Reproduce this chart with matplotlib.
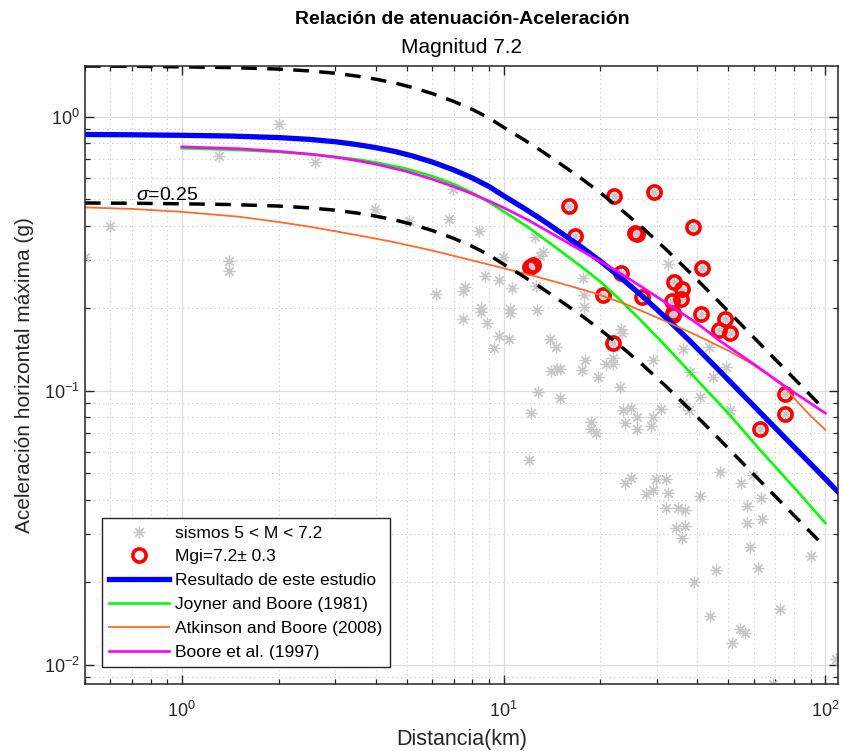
import numpy as np
import matplotlib
matplotlib.use('Agg')
import matplotlib.pyplot as plt

plt.rcParams['font.family'] = ['Liberation Sans', 'DejaVu Sans']
plt.rcParams['mathtext.fontset'] = 'custom'
plt.rcParams['mathtext.rm'] = 'Liberation Sans'
plt.rcParams['mathtext.it'] = 'Liberation Sans:italic'

# registros de sismos 5 < M < 7.2 (distancia km, aceleracion g)
sismos_dist = [2.00, 1.30, 2.59, 0.60, 0.50, 1.40, 1.40, 3.99, 5.09, 6.78, 8.36, 6.96,
               12.54, 9.93, 13.25, 12.94, 8.77, 9.68, 10.59, 7.56, 7.47, 6.18, 12.64,
               8.48, 8.48, 10.49, 10.49, 12.69, 7.47, 8.89, 9.68, 10.39, 9.36, 13.95,
               14.54, 14.00, 14.61, 15.01, 17.82, 17.82, 17.95, 17.57, 19.70, 20.86,
               21.87, 21.87, 23.22, 23.39, 29.12, 23.02, 12.79, 15.01, 12.20, 18.73,
               18.73, 19.42, 23.44, 24.95, 25.97, 23.86, 25.91, 29.12, 28.78, 30.92,
               11.99, 24.95, 23.78, 36.08, 43.39, 37.86, 44.76, 49.09, 40.81, 36.08,
               37.78, 50.6, 47.1, 29.83, 32.05, 27.77, 29.05, 32.41, 40.81, 54.8,
               59.57, 63.03, 32.05, 34.82, 36.53, 57.06, 63.72, 57.06, 34.43, 36.71,
               35.84, 58.3, 61.9, 90.0, 45.6, 38.96, 72.5, 43.9, 54.2, 56.1, 51.4,
               108.0, 68.7, 32.41, 17.64]
sismos_pga = [0.941, 0.721, 0.685, 0.400, 0.309, 0.297, 0.274, 0.461, 0.418, 0.424, 0.383, 0.544,
              0.364, 0.309, 0.320, 0.311, 0.263, 0.253, 0.238, 0.239, 0.232, 0.225, 0.241,
              0.200, 0.194, 0.199, 0.193, 0.197, 0.183, 0.177, 0.158, 0.155, 0.143, 0.155,
              0.145, 0.118, 0.120, 0.120, 0.223, 0.202, 0.130, 0.119, 0.112, 0.125,
              0.125, 0.132, 0.168, 0.162, 0.130, 0.103, 0.0988, 0.0942, 0.0828, 0.0767,
              0.0726, 0.0700, 0.0847, 0.0868, 0.0805, 0.0762, 0.0724, 0.0801, 0.0741, 0.0859,
              0.0560, 0.0482, 0.0460, 0.142, 0.145, 0.117, 0.112, 0.122, 0.0947, 0.0903,
              0.0852, 0.0847, 0.0507, 0.0475, 0.0477, 0.0421, 0.0435, 0.0422, 0.0413, 0.0461,
              0.0491, 0.0407, 0.0374, 0.0374, 0.0368, 0.0381, 0.0339, 0.0330, 0.0316, 0.0320,
              0.0290, 0.0270, 0.0225, 0.0249, 0.0221, 0.0200, 0.0160, 0.0150, 0.0135, 0.0130, 0.0120,
              0.0105, 0.0085, 0.290, 0.259]

# registros con Mgi = 7.2 +- 0.3
mgi_dist = [15.96, 21.98, 29.27, 16.66, 25.91, 25.7, 38.77, 12.04, 12.33, 41.26, 23.1,
            33.77, 35.84, 20.31, 26.85, 35.68, 33.36, 33.53, 33.6, 41.17, 48.89, 46.83,
            50.5, 21.93, 74.7, 75.1, 62.6]
mgi_pga = [0.471, 0.516, 0.531, 0.366, 0.374, 0.378, 0.395, 0.282, 0.288, 0.281, 0.268,
           0.250, 0.236, 0.223, 0.219, 0.216, 0.213, 0.193, 0.189, 0.190, 0.183, 0.166,
           0.162, 0.149, 0.0969, 0.0819, 0.0722]

# curva propuesta en este estudio
est_dist = [0.5, 0.7, 1.0, 1.4, 2.0, 2.5, 3.0, 3.5, 4.0, 4.6, 5.2, 6.0, 7.0, 8.0, 9.0,
            10, 11.5, 13, 15, 17.5, 20, 23, 27, 32, 38, 45, 55, 66, 80, 92, 100, 110]
est_pga = [0.862, 0.860, 0.856, 0.851, 0.840, 0.827, 0.811, 0.792, 0.772, 0.747, 0.720,
           0.684, 0.640, 0.598, 0.557, 0.515, 0.466, 0.425, 0.379, 0.334, 0.297, 0.260,
           0.2215, 0.1844, 0.1516, 0.1242, 0.0976, 0.0784, 0.0623, 0.0527, 0.0477, 0.0425]
sigma = 0.25

# modelos publicados
jb81_dist = [1.0, 1.5, 2.0, 2.5, 3.0, 3.5, 4.0, 5.0, 6.0, 7.0, 8.0, 9.0, 10, 12, 14.7,
             17.5, 20, 23, 26.8, 32, 41.6, 50, 62.5, 80, 100]
jb81_pga = [0.768, 0.757, 0.744, 0.730, 0.715, 0.699, 0.682, 0.646, 0.607, 0.568, 0.528,
            0.488, 0.452, 0.393, 0.330, 0.283, 0.250, 0.215, 0.180, 0.145, 0.104, 0.0826,
            0.061, 0.0443, 0.0329]

ab08_dist = [0.5, 0.7, 1.0, 1.5, 2.0, 2.5, 3.0, 3.5, 4.5, 6.0, 8.0, 10, 12.5, 15, 19, 24,
             31, 40, 50, 58, 66, 74, 82, 90, 100]
ab08_pga = [0.467, 0.461, 0.450, 0.432, 0.413, 0.397, 0.382, 0.370, 0.350, 0.325, 0.299,
            0.280, 0.262, 0.247, 0.228, 0.207, 0.182, 0.159, 0.140, 0.127, 0.115, 0.104,
            0.091, 0.081, 0.072]

b97_dist = [1.0, 1.5, 2.0, 2.5, 3.0, 3.5, 4.0, 5.0, 6.0, 7.0, 8.0, 9.0, 10, 12, 14.7, 18,
            22.9, 28, 33.6, 40, 46.9, 60, 75.6, 100]
b97_pga = [0.777, 0.765, 0.748, 0.731, 0.712, 0.692, 0.672, 0.632, 0.592, 0.556, 0.523,
           0.493, 0.466, 0.418, 0.365, 0.318, 0.270, 0.232, 0.2016, 0.176, 0.1524, 0.125,
           0.103, 0.0828]

fig = plt.figure(figsize=(8.43, 7.51), dpi=100)
ax = fig.add_axes([85 / 843, 67 / 751, 753 / 843, 618 / 751])

sis_x = sismos_dist + mgi_dist
sis_y = sismos_pga + mgi_pga
ax.plot(sis_x, sis_y, ls='none', marker=(8, 2, 0), ms=8.5, mew=0.9,
        color='#c8c8c8', label='sismos 5 < M < 7.2')
ax.plot(mgi_dist, mgi_pga, ls='none', marker='o', ms=9.5, mew=2.6,
        mec='#ff0000', mfc='none', label='Mgi=7.2± 0.3')
ax.plot(est_dist, est_pga, color='#0000ff', lw=3.8, label='Resultado de este estudio')
ax.plot(jb81_dist, jb81_pga, color='#00ff00', lw=1.9, label='Joyner and Boore (1981)')
ax.plot(ab08_dist, ab08_pga, color='#ff6a26', lw=1.3, label='Atkinson and Boore (2008)')
ax.plot(b97_dist, b97_pga, color='#ff00ff', lw=1.9, label='Boore et al. (1997)')

# banda de +- sigma (log10) alrededor de la curva propuesta
d = np.array(est_dist)
p = np.array(est_pga)
m = d <= 100
ax.plot(d[m], p[m] * 10 ** sigma, color='k', lw=2.5, ls=(0, (4.5, 3)))
ax.plot(d[m], p[m] / 10 ** sigma, color='k', lw=2.5, ls=(0, (4.5, 3)))
ax.text(0.72, 0.515, r'$\sigma$=0.25', fontsize=14, va='center', ha='left')

ax.set_xscale('log')
ax.set_yscale('log')
ax.set_xlim(0.5, 109.5)
ax.set_ylim(0.0085, 1.533)

ax.grid(True, which='major', color='#dcdcdc', lw=0.9, ls='-')
ax.grid(True, which='minor', color='#c4c4c4', lw=0.8, ls=(0, (1, 3)))
ax.set_axisbelow(True)
ax.tick_params(which='both', direction='in', top=True, right=True, colors='#262626',
               labelsize=13, labelcolor='#262626')
ax.tick_params(which='major', length=6.5, width=1.0)
ax.tick_params(which='minor', length=3.5, width=0.9)
ax.tick_params(axis='x', pad=12)
for s in ax.spines.values():
    s.set_color('#262626')
    s.set_linewidth(1.1)

ax.set_xlabel('Distancia(km)', fontsize=15.5, color='#262626', labelpad=6)
ax.set_ylabel('Aceleración horizontal máxima (g)', fontsize=15, color='#262626', labelpad=7)
fig.text(0.548, 0.974, 'Relación de atenuación-Aceleración', fontsize=14,
         fontweight='bold', ha='center', va='center')
fig.text(0.548, 0.937, 'Magnitud 7.2', fontsize=15, ha='center', va='center')

leg = ax.legend(loc='lower left', bbox_to_anchor=(0.022, 0.028), borderaxespad=0,
                fontsize=12.5, fancybox=False, framealpha=1, edgecolor='#262626',
                handlelength=3.5, handletextpad=0.35, labelspacing=0.5,
                borderpad=0.4)
leg.get_frame().set_linewidth(1.0)

fig.savefig('out.png', dpi=100)
